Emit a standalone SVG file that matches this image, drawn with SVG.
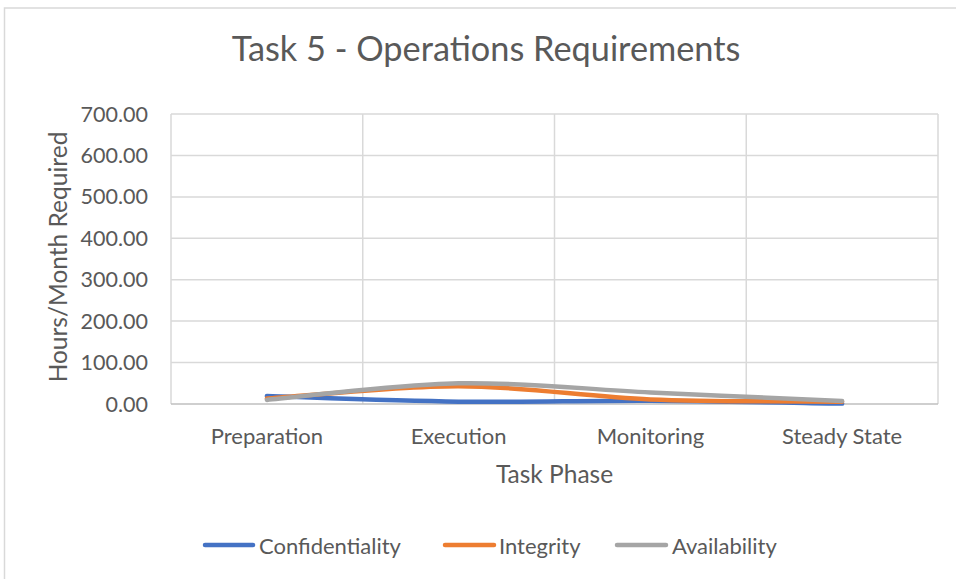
<svg xmlns="http://www.w3.org/2000/svg" width="956" height="579" viewBox="0 0 956 579">
  <style>
    .txt { font-family: Lato, "Open Sans", "Liberation Sans", sans-serif; fill: #595959; }
    .title { font-size: 34.3px; }
    .tick { font-size: 21.5px; text-anchor: end; }
    .cat { font-size: 22px; text-anchor: middle; }
    .axis-title { font-size: 24.5px; text-anchor: middle; }
    .legend { font-size: 22px; }
    .grid { stroke: #D9D9D9; stroke-width: 1.5; fill: none; }
    .axis { stroke: #BFBFBF; stroke-width: 1.5; fill: none; }
    .series { fill: none; stroke-width: 4.5; stroke-linecap: round; stroke-linejoin: round; }
    .conf { stroke: #4472C4; }
    .integ { stroke: #ED7D31; }
    .avail { stroke: #A5A5A5; }
  </style>

  <!-- chart area background and frame -->
  <rect x="0" y="0" width="956" height="579" fill="#FFFFFF"/>
  <rect x="4.5" y="8" width="970" height="600" fill="#FFFFFF" stroke="#D9D9D9" stroke-width="1.5"/>

  <!-- title -->
  <text id="chart-title" class="txt title" x="486" y="61" text-anchor="middle">Task 5 - Operations Requirements</text>

  <!-- gridlines -->
  <g id="gridlines">
    <path class="grid" d="M171 114H938M171 155.4H938M171 196.9H938M171 238.3H938M171 279.7H938M171 321.1H938M171 362.6H938"/>
    <path class="grid" d="M171 114V404M362.75 114V404M554.5 114V404M746.25 114V404M938 114V404"/>
    <path class="axis" d="M171 404H938"/>
  </g>

  <!-- value axis labels -->
  <g id="value-axis">
    <text class="txt tick" x="148" y="121.5">700.00</text>
    <text class="txt tick" x="148" y="162.9">600.00</text>
    <text class="txt tick" x="148" y="204.4">500.00</text>
    <text class="txt tick" x="148" y="245.8">400.00</text>
    <text class="txt tick" x="148" y="287.2">300.00</text>
    <text class="txt tick" x="148" y="328.6">200.00</text>
    <text class="txt tick" x="148" y="370.1">100.00</text>
    <text class="txt tick" x="148" y="411.5">0.00</text>
    <text class="txt axis-title" transform="translate(67 257) rotate(-90)">Hours/Month Required</text>
  </g>

  <!-- category axis labels -->
  <g id="category-axis">
    <text class="txt cat" x="266.9" y="444">Preparation</text>
    <text class="txt cat" x="458.6" y="444">Execution</text>
    <text class="txt cat" x="650.4" y="444">Monitoring</text>
    <text class="txt cat" x="842.1" y="444">Steady State</text>
    <text class="txt axis-title" x="554.5" y="483">Task Phase</text>
  </g>

  <!-- smoothed data series -->
  <g id="series">
    <path id="confidentiality" class="series conf" d="M266.9 396.1C298.9 397.03 394.7 400.93 458.6 401.7C522.5 402.47 586.5 400.38 650.4 400.7C714.3 401.02 810.1 403.12 842.1 403.6"/>
    <path id="integrity" class="series integ" d="M266.9 398.6C298.9 396.53 394.7 386.07 458.6 386.2C522.5 386.33 586.5 396.82 650.4 399.4C714.3 401.98 810.1 401.32 842.1 401.7"/>
    <path id="availability" class="series avail" d="M266.9 399.9C298.9 397.1 394.7 384.55 458.6 383.3C522.5 382.05 586.5 389.43 650.4 392.4C714.3 395.37 810.1 399.65 842.1 401.1"/>
  </g>

  <!-- legend -->
  <g id="legend">
    <g id="legend-confidentiality">
      <line class="series conf" x1="205" y1="545" x2="253" y2="545"/>
      <text class="txt legend" x="259" y="553.5">Confidentiality</text>
    </g>
    <g id="legend-integrity">
      <line class="series integ" x1="445" y1="545" x2="494" y2="545"/>
      <text class="txt legend" x="499" y="553.5">Integrity</text>
    </g>
    <g id="legend-availability">
      <line class="series avail" x1="617" y1="545" x2="666" y2="545"/>
      <text class="txt legend" x="672" y="553.5">Availability</text>
    </g>
  </g>
</svg>
